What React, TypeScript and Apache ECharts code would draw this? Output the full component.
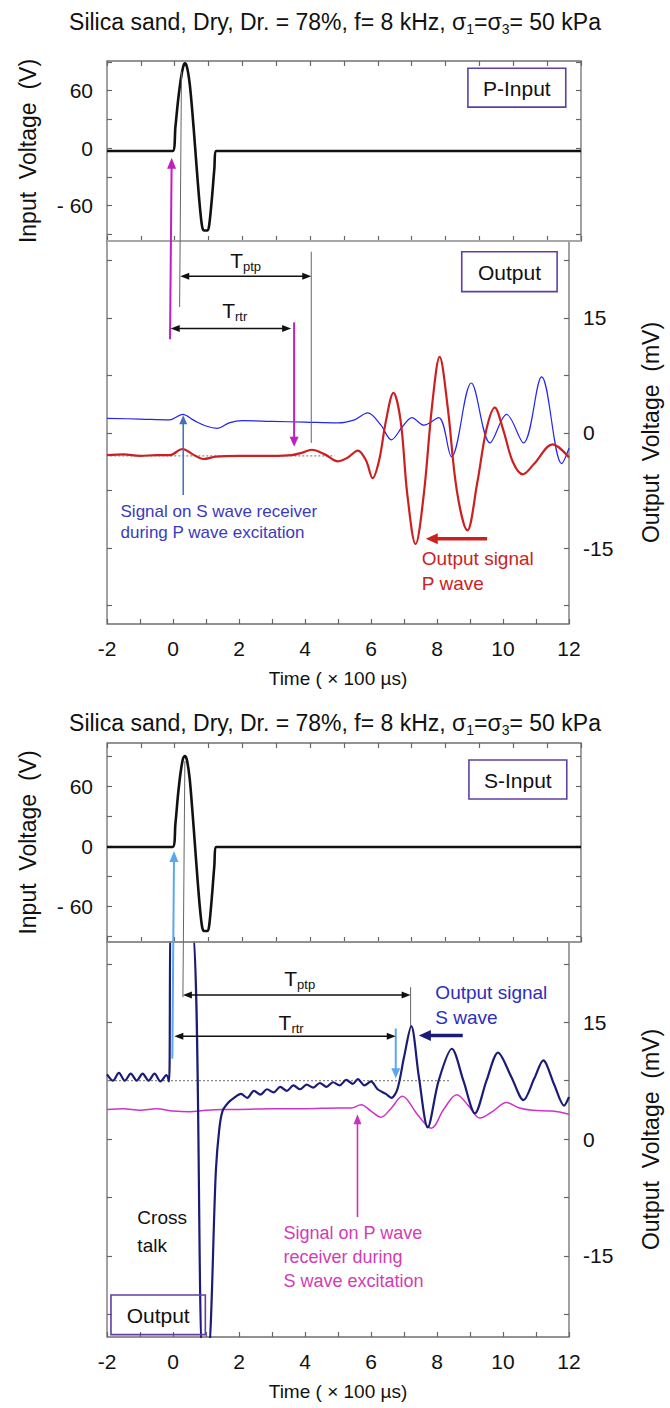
import React, { useEffect, useRef } from 'react';
import * as echarts from 'echarts';

const FONT = '"Liberation Sans", Arial, Helvetica, sans-serif';

// ---- axis ticks / labels ----
const xTicks = [-2, -1, 0, 1, 2, 3, 4, 5, 6, 7, 8, 9, 10, 11, 12];
const xLabels = [-2, 0, 2, 4, 6, 8, 10, 12];
const inTicks = [-90, -60, -30, 0, 30, 60, 90];
const inLabels = [-60, 0, 60];
const outTicks = [-22.5, -15, -7.5, 0, 7.5, 15, 22.5];
const outLabels = [-15, 0, 15];

// ---- axis ranges ----
const topInRange = [-97, 91];
const topOutRange = [-24.9, 25];
const botInRange = [-96, 103];
const botOutRange = [-25.4, 25.3];

// ---- top figure (P excitation) ----
const pInput: number[][] = [
  [-2, -3], [-0.06, -3], [0.02, 22], [0.1, 50], [0.18, 72], [0.25, 85], [0.3, 88.5], [0.36, 85],
  [0.44, 68], [0.52, 38], [0.6, 2], [0.68, -35], [0.75, -64], [0.81, -82], [0.86, -86], [0.97, -86],
  [1.02, -80], [1.1, -52], [1.17, -22], [1.23, -3], [12, -3],
];
const pOutputP: number[][] = [
  [-2, -2.9], [-1.5, -2.8], [-1, -3.0], [-0.5, -2.9], [-0.1, -2.9], [0.29, -2.1], [0.6, -2.8], [0.92, -3.4],
  [1.3, -3.1], [2, -3.0], [3, -3.0], [3.6, -2.9], [3.9, -2.6], [4.2, -2.2], [4.6, -2.8], [5.0, -3.7],
  [5.3, -3.2], [5.6, -2.3], [5.85, -3.6], [6.05, -5.9], [6.25, -3.5], [6.45, 1.5], [6.68, 5.2], [6.9, 1.5],
  [7.1, -8], [7.35, -14.5], [7.6, -8], [7.85, 3.5], [8.08, 9.9], [8.32, 3.5], [8.6, -7.5], [8.92, -12.7],
  [9.22, -6.5], [9.5, 0.5], [9.75, 3.3], [10.0, 0.5], [10.3, -3.8], [10.6, -5.4], [10.95, -4], [11.5, -1.5],
  [12, -3.2],
];
const pOutputS: number[][] = [
  [-2, 1.9], [-1, 1.8], [-0.1, 1.7], [0.29, 2.4], [0.65, 1.6], [1.0, 0.9], [1.35, 0.6], [1.7, 1.3],
  [2.1, 1.6], [3, 1.5], [4, 1.4], [5, 1.3], [5.5, 1.7], [5.9, 2.6], [6.3, 1.0], [6.62, -0.9], [6.95, 0.8],
  [7.24, 2.0], [7.6, 1.0], [8.05, 2.0], [8.44, -3.1], [9.04, 6.5], [9.61, -1.3], [10.11, 2.4], [10.62, -1.3],
  [11.17, 7.3], [11.78, -4], [12, -2],
];
const pBaseline: number[][] = [[-1.9, -3], [4.9, -3]];

// ---- bottom figure (S excitation) ----
const sInput: number[][] = [
  [-2, -1], [-0.06, -1], [0.02, 22], [0.1, 52], [0.18, 75], [0.25, 88], [0.3, 90], [0.36, 86],
  [0.44, 68], [0.52, 36], [0.6, 0], [0.68, -36], [0.75, -64], [0.81, -81], [0.86, -85], [0.97, -85],
  [1.02, -79], [1.1, -50], [1.17, -20], [1.23, -1], [12, -1],
];
const sOutputS: number[][] = [
  [-2, 8.3], [-1.82, 7.5], [-1.64, 8.5], [-1.46, 7.5], [-1.28, 8.4], [-1.1, 7.5], [-0.92, 8.4], [-0.74, 7.5],
  [-0.56, 8.4], [-0.38, 7.4], [-0.2, 8.2], [-0.12, 7.4], [-0.05, 28], [0.55, 28], [0.9, -28], [1.05, -28],
  [1.3, -4], [1.4, 1.2], [1.5, 3.6], [1.68, 4.7], [1.85, 5.3], [2.06, 5.8], [2.25, 5.3], [2.45, 6.2],
  [2.65, 5.7], [2.85, 6.4], [3.05, 6.0], [3.25, 6.7], [3.45, 6.2], [3.65, 6.9], [3.85, 6.4], [4.05, 7.0],
  [4.25, 6.6], [4.45, 7.2], [4.65, 6.7], [4.85, 7.3], [5.05, 6.9], [5.25, 7.6], [5.45, 7.1], [5.6, 7.7],
  [5.8, 6.9], [6.0, 7.4], [6.2, 6.4], [6.45, 5.8], [6.62, 5.3], [6.8, 6.4], [7.0, 10.5], [7.22, 14.5],
  [7.45, 8], [7.72, 1.5], [8.05, 7.5], [8.45, 11.6], [8.8, 7.5], [9.15, 3.3], [9.5, 7.5], [9.85, 11.1],
  [10.25, 8], [10.62, 5.0], [10.95, 7.8], [11.22, 10.1], [11.55, 7], [11.85, 4.3], [12, 5.4],
];
const sOutputP: number[][] = [
  [-2, 3.8], [-1.5, 3.9], [-1, 3.7], [-0.5, 3.9], [0, 3.6], [0.5, 3.5], [1.0, 3.7], [1.5, 3.8], [2, 3.8],
  [3, 3.9], [4, 3.9], [5, 4.0], [5.4, 4.0], [5.7, 4.4], [6.0, 3.6], [6.3, 2.8], [6.6, 3.9], [6.95, 5.5],
  [7.4, 3.2], [7.83, 1.4], [8.2, 3.8], [8.6, 5.7], [8.95, 4.3], [9.3, 2.7], [9.7, 3.6], [10.1, 4.7],
  [10.5, 4.0], [10.9, 3.7], [11.5, 3.6], [12, 3.2],
];
const sBaseline: number[][] = [[-2, 7.5], [8.4, 7.5]];

const TITLE = 'Silica sand, Dry, Dr. = 78%, f= 8 kHz, σ{s|1}=σ{s|3}= 50 kPa';

// axis index pairs for each panel
const TOP_IN = [0, 0];
const TOP_OUT = [2, 3];
const BOT_IN = [3, 4];
const BOT_OUT = [5, 7];

function mkTitle(top: number) {
  return {
    text: TITLE,
    left: 'center',
    top,
    textStyle: {
      fontFamily: FONT, fontSize: 23, fontWeight: 'normal', color: '#111', lineHeight: 28,
      rich: { s: { fontFamily: FONT, fontSize: 14, lineHeight: 14, verticalAlign: 'bottom', color: '#111' } },
    },
  };
}

function mkGrid(top: number, height: number) {
  return { left: 107, top, width: 474, height, show: true, borderColor: '#707070', borderWidth: 1.3, containLabel: false };
}

const tickStyle = { color: '#666', width: 1.2 };

function mkX(gridIndex: number, position: string, labels: boolean) {
  return {
    type: 'value', gridIndex, position, min: -2, max: 12, interval: 1,
    axisLine: { show: false, onZero: false }, splitLine: { show: false },
    axisTick: { show: true, inside: true, length: 5, lineStyle: tickStyle, customValues: xTicks },
    axisLabel: labels
      ? { show: true, customValues: xLabels, margin: 14, fontSize: 21, color: '#111', fontFamily: FONT }
      : { show: false },
    name: labels ? 'Time ( × 100 µs)' : '',
    nameLocation: 'middle', nameGap: 45,
    nameTextStyle: { fontSize: 19, color: '#111', fontFamily: FONT },
  };
}

function mkY(gridIndex: number, position: string, range: number[], ticks: number[], labels: number[] | null, name: string, gap: number, fmt?: (v: number) => string) {
  return {
    type: 'value', gridIndex, position, min: range[0], max: range[1],
    axisLine: { show: false, onZero: false }, splitLine: { show: false },
    axisTick: { show: true, inside: true, length: 5, lineStyle: tickStyle, customValues: ticks },
    axisLabel: labels
      ? { show: true, customValues: labels, margin: 14, fontSize: 21, color: '#111', fontFamily: FONT, formatter: fmt }
      : { show: false },
    name, nameLocation: 'middle', nameGap: gap,
    nameTextStyle: { fontSize: 23, color: '#111', fontFamily: FONT },
  };
}

const inFmt = (v: number) => (v < 0 ? '- ' + Math.abs(v) : String(v));
const outFmt = (v: number) => String(v);

function line(ax: number[], data: number[][], color: string, width: number, z = 3, smooth: number | boolean = 0.35, dash?: any) {
  return {
    type: 'line', xAxisIndex: ax[0], yAxisIndex: ax[1], data, symbol: 'none', showSymbol: false,
    smooth, z, silent: true,
    lineStyle: { color, width, type: dash || 'solid' },
  };
}

export default function App() {
  const ref = useRef<HTMLDivElement>(null);
  useEffect(() => {
    if (!ref.current) return;
    const chart = echarts.init(ref.current, undefined, { renderer: 'svg' });
    const option: any = {
      animation: false,
      backgroundColor: '#ffffff',
      textStyle: { fontFamily: FONT },
      title: [mkTitle(3), mkTitle(704)],
      grid: [mkGrid(61, 180), mkGrid(241, 383), mkGrid(743, 199), mkGrid(942, 395)],
      xAxis: [
        mkX(0, 'bottom', false), mkX(0, 'top', false), mkX(1, 'bottom', true),
        mkX(2, 'bottom', false), mkX(2, 'top', false), mkX(3, 'bottom', true),
      ],
      yAxis: [
        mkY(0, 'left', topInRange, inTicks, inLabels, 'Input  Voltage  (V)', 68, inFmt),
        mkY(0, 'right', topInRange, inTicks, null, '', 60),
        mkY(1, 'left', topOutRange, outTicks, null, '', 60),
        mkY(1, 'right', topOutRange, outTicks, outLabels, 'Output  Voltage  (mV)', 70, outFmt),
        mkY(2, 'left', botInRange, inTicks, inLabels, 'Input  Voltage  (V)', 68, inFmt),
        mkY(2, 'right', botInRange, inTicks, null, '', 60),
        mkY(3, 'left', botOutRange, outTicks, null, '', 60),
        mkY(3, 'right', botOutRange, outTicks, outLabels, 'Output  Voltage  (mV)', 70, outFmt),
      ],
      series: [
        line(TOP_IN, pInput, '#111111', 2.6, 3, 0.3),
        line(TOP_OUT, pBaseline, '#8a8a8a', 1.2, 2, false, [2, 2]),
        line(TOP_OUT, pOutputS, '#2424f0', 1.2, 3),
        line(TOP_OUT, pOutputP, '#cc2020', 2.2, 4),
        line(BOT_IN, sInput, '#111111', 2.6, 3, 0.3),
        line(BOT_OUT, sBaseline, '#8a8a8a', 1.2, 2, false, [2, 2]),
        line(BOT_OUT, sOutputP, '#cc33cc', 1.5, 3),
        line(BOT_OUT, sOutputS, '#1b1b78', 2.2, 4, 0.3),
      ],
    };
    chart.setOption(option);

    const P = (ax: number[], x: number, y: number): number[] =>
      chart.convertToPixel({ xAxisIndex: ax[0], yAxisIndex: ax[1] } as any, [x, y]) as number[];

    const els: any[] = [];
    const ln = (a: number[], b: number[], color: string, w: number) =>
      els.push({ type: 'line', z: 50, silent: true, shape: { x1: a[0], y1: a[1], x2: b[0], y2: b[1] }, style: { stroke: color, lineWidth: w } });
    const head = (tip: number[], ux: number, uy: number, color: string, hl: number, hw: number) => {
      const nx = -uy, ny = ux;
      els.push({
        type: 'polygon', z: 51, silent: true,
        shape: { points: [[tip[0], tip[1]], [tip[0] - ux * hl + nx * hw / 2, tip[1] - uy * hl + ny * hw / 2], [tip[0] - ux * hl - nx * hw / 2, tip[1] - uy * hl - ny * hw / 2]] },
        style: { fill: color },
      });
    };
    const arrow = (a: number[], b: number[], color: string, w: number, hl: number, hw: number, both = false) => {
      const dx = b[0] - a[0], dy = b[1] - a[1];
      const L = Math.hypot(dx, dy) || 1;
      const ux = dx / L, uy = dy / L;
      const s = both ? [a[0] + ux * hl * 0.8, a[1] + uy * hl * 0.8] : a;
      const e = [b[0] - ux * hl * 0.8, b[1] - uy * hl * 0.8];
      ln(s, e, color, w);
      head(b, ux, uy, color, hl, hw);
      if (both) head(a, -ux, -uy, color, hl, hw);
    };
    const txt = (p: number[], text: string, color: string, size: number, align = 'left', rich?: any) =>
      els.push({
        type: 'text', z: 60, silent: true, x: p[0], y: p[1],
        style: { text, fill: color, fontSize: size, fontFamily: FONT, align, textAlign: align, verticalAlign: 'middle', textVerticalAlign: 'middle', rich, lineHeight: size + 4 },
      });
    const box = (a: number[], b: number[], label: string) => {
      els.push({ type: 'rect', z: 55, silent: true, shape: { x: a[0], y: a[1], width: b[0] - a[0], height: b[1] - a[1] }, style: { fill: 'none', stroke: '#5f3fa6', lineWidth: 1.6 } });
      txt([(a[0] + b[0]) / 2, (a[1] + b[1]) / 2 + 1], label, '#111', 21, 'center');
    };
    const subRich = { s: { fontSize: 13, lineHeight: 13, verticalAlign: 'bottom', fontFamily: FONT, fill: '#111', color: '#111' } };

    // panel boundaries
    const b1 = P(TOP_IN, -2, topInRange[0]); const b1r = P(TOP_IN, 12, topInRange[0]);
    ln(b1, b1r, '#a8a8a8', 2.2);
    const b2 = P(BOT_IN, -2, botInRange[0]); const b2r = P(BOT_IN, 12, botInRange[0]);
    ln(b2, b2r, '#9a9a9a', 1.6);

    // ---- top figure annotations ----
    ln(P(TOP_IN, 0.2, 80), P(TOP_OUT, 0.2, 16.4), '#666', 1);
    ln(P(TOP_OUT, 4.19, 23.6), P(TOP_OUT, 4.19, -1.3), '#666', 1);
    arrow(P(TOP_OUT, -0.09, 12.2), P(TOP_IN, -0.09, -10), '#c21fc0', 2, 11, 9);
    arrow(P(TOP_OUT, 0.22, 20.4), P(TOP_OUT, 4.19, 20.4), '#111', 1.5, 9, 7, true);
    arrow(P(TOP_OUT, -0.07, 13.6), P(TOP_OUT, 3.58, 13.6), '#111', 1.5, 9, 7, true);
    arrow(P(TOP_OUT, 3.67, 14.4), P(TOP_OUT, 3.67, -1.8), '#c21fc0', 2, 10, 9);
    arrow(P(TOP_OUT, 0.31, -8.1), P(TOP_OUT, 0.31, 2.3), '#4470b8', 1.5, 9, 8);
    arrow(P(TOP_OUT, 9.52, -13.8), P(TOP_OUT, 7.66, -13.8), '#cc2020', 3.5, 12, 11);
    txt(P(TOP_OUT, 2.2, 22.4), 'T{s|ptp}', '#111', 21, 'center', subRich);
    txt(P(TOP_OUT, 1.87, 16.0), 'T{s|rtr}', '#111', 21, 'center', subRich);
    txt(P(TOP_OUT, -1.59, -10.3), 'Signal on S wave receiver', '#3a3ac0', 17);
    txt(P(TOP_OUT, -1.59, -13.0), 'during P wave excitation', '#3a3ac0', 17);
    txt(P(TOP_OUT, 7.54, -16.4), 'Output signal', '#cc2222', 19);
    txt(P(TOP_OUT, 7.54, -19.6), 'P wave', '#cc2222', 19);
    box(P(TOP_IN, 8.66, 83.5), P(TOP_IN, 11.55, 42.8), 'P-Input');
    box(P(TOP_OUT, 8.75, 23.6), P(TOP_OUT, 11.64, 18.4), 'Output');

    // ---- bottom figure annotations ----
    ln(P(BOT_IN, 0.3, 85), P(BOT_OUT, 0.3, 18.2), '#666', 1);
    ln(P(BOT_OUT, 7.2, 19.5), P(BOT_OUT, 7.2, 14.5), '#666', 1);
    arrow(P(BOT_OUT, -0.02, 10.3), P(BOT_IN, -0.02, -5), '#5aa8ec', 2, 11, 9);
    arrow(P(BOT_OUT, 0.3, 18.5), P(BOT_OUT, 7.2, 18.5), '#111', 1.5, 9, 7, true);
    arrow(P(BOT_OUT, 0.04, 13.2), P(BOT_OUT, 6.75, 13.2), '#111', 1.5, 9, 7, true);
    arrow(P(BOT_OUT, 6.75, 14.2), P(BOT_OUT, 6.75, 7.8), '#5aa8ec', 2, 10, 9);
    arrow(P(BOT_OUT, 8.78, 13.3), P(BOT_OUT, 7.45, 13.3), '#1b1b78', 3.5, 12, 11);
    arrow(P(BOT_OUT, 5.59, -10), P(BOT_OUT, 5.59, 3.2), '#cc33bb', 1.6, 10, 8);
    txt(P(BOT_OUT, 3.84, 20.6), 'T{s|ptp}', '#111', 21, 'center', subRich);
    txt(P(BOT_OUT, 3.58, 15.0), 'T{s|rtr}', '#111', 21, 'center', subRich);
    txt(P(BOT_OUT, 7.95, 18.8), 'Output signal', '#2d2dbb', 19);
    txt(P(BOT_OUT, 7.95, 15.6), 'S wave', '#2d2dbb', 19);
    txt(P(BOT_OUT, 3.35, -12.0), 'Signal on P wave', '#d23cb4', 18);
    txt(P(BOT_OUT, 3.35, -15.1), 'receiver during', '#d23cb4', 18);
    txt(P(BOT_OUT, 3.35, -18.2), 'S wave excitation', '#d23cb4', 18);
    txt(P(BOT_OUT, -1.08, -10.1), 'Cross', '#111', 19);
    txt(P(BOT_OUT, -1.08, -13.6), 'talk', '#111', 19);
    box(P(BOT_IN, 8.69, 86), P(BOT_IN, 11.58, 47), 'S-Input');
    box(P(BOT_OUT, -1.88, -20), P(BOT_OUT, 0.98, -25.1), 'Output');

    chart.setOption({ graphic: els });
    return () => chart.dispose();
  }, []);
  return <div ref={ref} style={{ position: 'absolute', left: 0, top: 0, width: 670, height: 1408, background: '#fff' }} />;
}
